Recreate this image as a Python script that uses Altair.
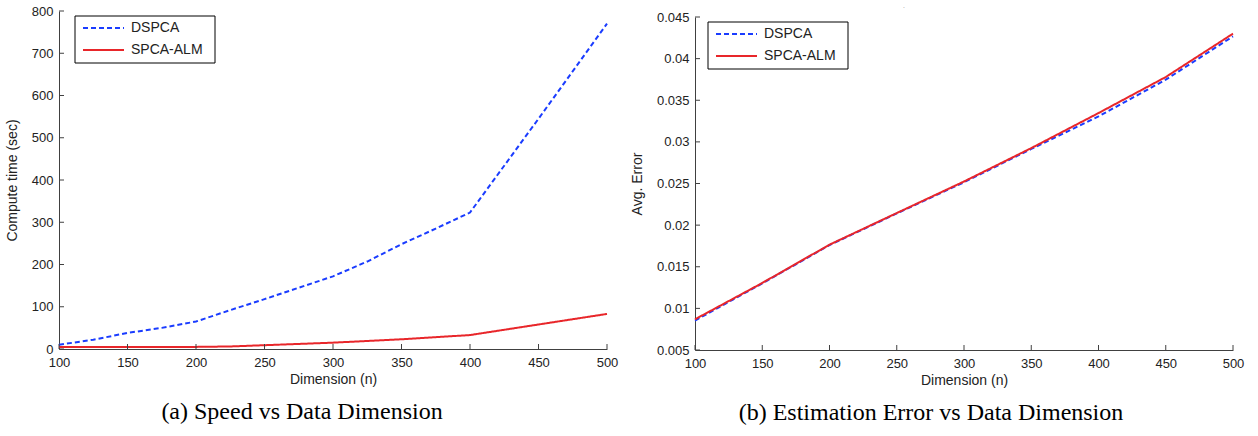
import altair as alt
import pandas as pd

# ---- data ----
dims_a_dspca = [100, 125, 150, 175, 200, 225, 250, 275, 300, 325, 350, 375, 400, 450, 500]
time_dspca = [10, 22, 38, 50, 65, 92, 118, 145, 172, 207, 248, 285, 323, 545, 770]
dims_a_alm = [100, 150, 200, 225, 250, 300, 350, 400, 450, 500]
time_alm = [5, 5, 5, 6, 9, 15, 23, 33, 58, 83]

dims_b = [100, 150, 200, 250, 300, 350, 400, 450, 500]
err_dspca = [0.00853, 0.01300, 0.01760, 0.02140, 0.02515, 0.02915, 0.03306, 0.03747, 0.04268]
err_alm = [0.00869, 0.01305, 0.01765, 0.02145, 0.02524, 0.02925, 0.03346, 0.03779, 0.04300]

series = ["DSPCA", "SPCA-ALM"]
colors = ["#1a3cff", "#e8262a"]
dashes = [[5, 3], [1, 0]]

x_ticks = [100, 150, 200, 250, 300, 350, 400, 450, 500]
ya_ticks = [0, 100, 200, 300, 400, 500, 600, 700, 800]
yb_ticks = [0.005, 0.01, 0.015, 0.02, 0.025, 0.03, 0.035, 0.04, 0.045]

caption_a = "(a) Speed vs Data Dimension"
caption_b = "(b) Estimation Error vs Data Dimension"

df_a = pd.concat([
    pd.DataFrame({"n": dims_a_dspca, "v": time_dspca, "s": series[0]}),
    pd.DataFrame({"n": dims_a_alm, "v": time_alm, "s": series[1]}),
])
df_b = pd.concat([
    pd.DataFrame({"n": dims_b, "v": err_dspca, "s": series[0]}),
    pd.DataFrame({"n": dims_b, "v": err_alm, "s": series[1]}),
])

AX = "#404040"
FONT = "Liberation Sans"
ONE = pd.DataFrame({"k": [0]})


def legend_layers(lx, ly, dy):
    out = [alt.Chart(ONE).mark_rect(fill="white", stroke="black", strokeWidth=1).encode(
        x=alt.value(lx), x2=alt.value(lx + 140), y=alt.value(ly + dy), y2=alt.value(ly + dy + 47))]
    for i, (name, col, dash) in enumerate(zip(series, colors, dashes)):
        ry = ly + dy + 12 + 22 * i
        out.append(alt.Chart(ONE).mark_rule(color=col, strokeWidth=2, strokeDash=dash).encode(
            x=alt.value(lx + 8), x2=alt.value(lx + 49), y=alt.value(ry)))
        out.append(alt.Chart(pd.DataFrame({"t": [name]})).mark_text(
            font=FONT, fontSize=14, color="#222", align="left", baseline="middle").encode(
            text="t:N", x=alt.value(lx + 56), y=alt.value(ry)))
    return out


def panel(df, ydom, yticks, ytitle, yfmt, w, h, caption, cap_dx, lx, ly, dy=0, dot=False):
    xs = alt.Scale(domain=[100, 500], nice=False, zero=False)
    ys = alt.Scale(domain=ydom, nice=False, zero=False)
    xaxis = alt.Axis(values=x_ticks, title="Dimension (n)", grid=False, tickSize=0,
                     labelPadding=7, titlePadding=3, domainColor=AX, labelFlush=False,
                     offset=dy,
                     labelFont=FONT, labelFontSize=13, labelColor="#222",
                     titleFont=FONT, titleFontSize=14, titleFontWeight="normal", titleColor="#222")
    yaxis = alt.Axis(values=yticks, title=ytitle, grid=False, tickSize=0, format=yfmt,
                     labelPadding=6, titlePadding=12, domainColor=AX, labelFlush=False,
                     offset=dy, translate=dy + 0.5,
                     labelFont=FONT, labelFontSize=13, labelColor="#222",
                     titleFont=FONT, titleFontSize=14, titleFontWeight="normal", titleColor="#222")
    lines = alt.Chart(df).mark_line(strokeWidth=2, yOffset=dy).encode(
        x=alt.X("n:Q", scale=xs, axis=xaxis),
        y=alt.Y("v:Q", scale=ys, axis=yaxis),
        color=alt.Color("s:N", scale=alt.Scale(domain=series, range=colors), legend=None),
        strokeDash=alt.StrokeDash("s:N", scale=alt.Scale(domain=series, range=dashes), legend=None),
    )
    yt = alt.Chart(pd.DataFrame({"t": yticks})).mark_rule(color=AX, strokeWidth=1, yOffset=dy).encode(
        y=alt.Y("t:Q", scale=ys), x=alt.value(0), x2=alt.value(5))
    xt = alt.Chart(pd.DataFrame({"t": x_ticks})).mark_rule(color=AX, strokeWidth=1).encode(
        x=alt.X("t:Q", scale=xs), y=alt.value(h + dy), y2=alt.value(h + dy - 5))
    layers = [lines, yt, xt] + legend_layers(lx, ly, dy)
    if dot:
        layers.append(alt.Chart(pd.DataFrame({"c": ["."]})).mark_text(
            fontSize=5, color="#333", baseline="alphabetic", align="center").encode(
            text="c:N", x=alt.value(209), y=alt.value(-3)))
    return alt.layer(*layers).properties(
        width=w, height=h,
        title=alt.TitleParams(caption, orient="bottom", anchor="middle", dx=cap_dx, offset=14,
                              font="Liberation Serif", fontSize=24, fontWeight="normal", color="black"),
    )


left = panel(df_a, [0, 800], ya_ticks, "Compute time (sec)", "d", 548, 338, caption_a, -31, 16, 5)
right = panel(df_b, [0.005, 0.045], yb_ticks, "Avg. Error", "~g", 538, 333, caption_b, -33, 13, 5,
              dy=6, dot=True)

chart = alt.hconcat(left, right, spacing=6).properties(
    padding={"left": 5, "top": 4, "right": 5, "bottom": 5},
    background="white",
).configure_view(stroke=None)

chart.save("out.html", embed_options={"renderer": "svg", "actions": False})
